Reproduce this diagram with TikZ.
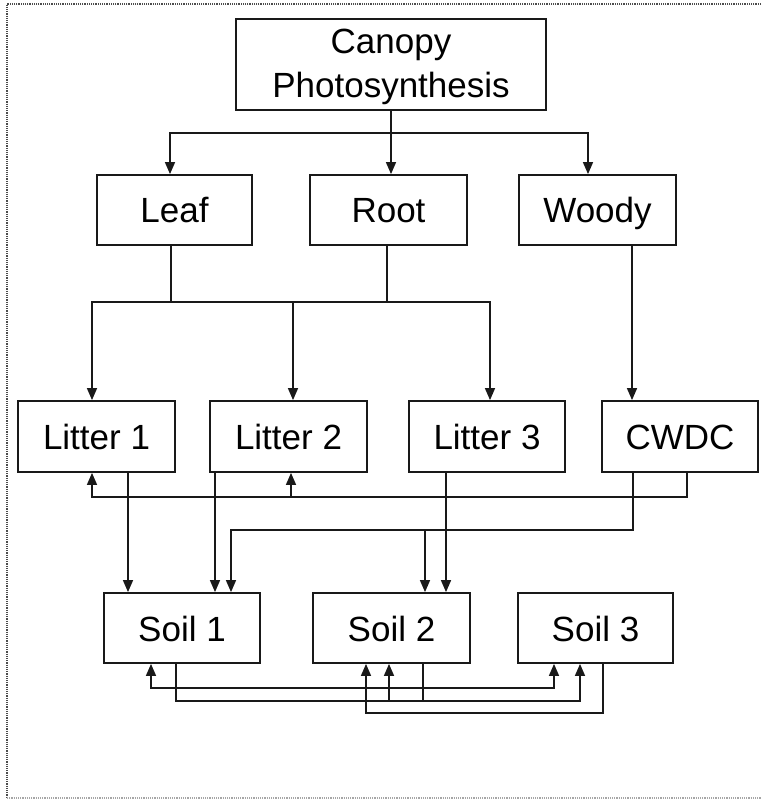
\documentclass[tikz,border=0pt]{standalone}
\usepackage{fontspec}
\setmainfont{Liberation Sans}
\usetikzlibrary{arrows.meta}
\begin{document}
\begin{tikzpicture}[x=1pt,y=-1pt,
  box/.style={draw=black!90,line width=1.8pt,minimum height=70pt,inner sep=0pt,align=center,
    text height=26pt,text depth=0pt,font=\fontsize{35}{44}\selectfont},
  conn/.style={draw=black!90,line width=1.5pt},
  arr/.style={conn,-{Triangle[length=12pt,width=10pt]}}]
\useasboundingbox (0,0) rectangle (761,799);
% frame
\draw[black!70,line width=1.2pt,densely dotted] (761,4) -- (7,4) -- (7,798);
\draw[black!35,line width=1.2pt,densely dotted] (7,798) -- (761,798);
% nodes
\node[box,minimum width=310pt,minimum height=91pt,text height=67pt] (canopy) at (391,64.5) {Canopy\\Photosynthesis};
\node[box,minimum width=155pt] (leaf) at (174.5,210) {Leaf};
\node[box,minimum width=157pt] (root) at (388.5,210) {Root};
\node[box,minimum width=157pt] (woody) at (597.5,210) {Woody};
\node[box,minimum width=157pt,minimum height=71pt] (lit1) at (96.5,436.5) {Litter 1};
\node[box,minimum width=157pt,minimum height=71pt] (lit2) at (288.5,436.5) {Litter 2};
\node[box,minimum width=156pt,minimum height=71pt] (lit3) at (487,436.5) {Litter 3};
\node[box,minimum width=156pt,minimum height=71pt] (cwdc) at (680,436.5) {CWDC};
\node[box,minimum width=156pt] (soil1) at (182,628) {Soil 1};
\node[box,minimum width=157pt] (soil2) at (391.5,628) {Soil 2};
\node[box,minimum width=155pt] (soil3) at (595.5,628) {Soil 3};
% canopy -> leaf/root/woody
\coordinate (j1) at (391,133);
\draw[conn] (canopy.south) -- (j1);
\draw[arr] (j1) -| (leaf.north -| 170,0);
\draw[arr] (j1) -- (root.north -| 391,0);
\draw[arr] (j1) -| (woody.north -| 588,0);
% leaf/root -> litters
\coordinate (j2) at (171,302);
\coordinate (j3) at (387,302);
\draw[conn] (leaf.south -| 171,0) -- (j2);
\draw[conn] (root.south -| 387,0) -- (j3);
\draw[arr] (j3) -| (lit1.north -| 92,0);
\draw[arr] (j3) -| (lit3.north -| 490,0);
\draw[arr] (293,302) -- (lit2.north -| 293,0);
% woody -> cwdc
\draw[arr] (woody.south -| 632,0) -- (cwdc.north -| 632,0);
% cwdc -> litter 1, litter 2
\coordinate (j4) at (291,497);
\draw[conn] (cwdc.south -| 687,0) |- (j4);
\draw[arr] (j4) -| (lit1.south -| 92,0);
\draw[arr] (j4) -- (lit2.south -| 291,0);
% litters -> soil 1
\draw[arr] (lit1.south -| 128,0) -- (soil1.north -| 128,0);
\draw[arr] (lit2.south -| 215,0) -- (soil1.north -| 215,0);
% cwdc -> soil 1, soil 2
\coordinate (j5) at (425,530);
\draw[conn] (cwdc.south -| 633,0) |- (j5);
\draw[arr] (j5) -| (soil1.north -| 231,0);
\draw[arr] (j5) -- (soil2.north -| 425,0);
% litter 3 -> soil 2
\draw[arr] (lit3.south -| 446,0) -- (soil2.north -| 446,0);
% soil 2 -> soil 1, soil 3
\coordinate (j6) at (423,688);
\draw[conn] (soil2.south -| 423,0) -- (423,701);
\draw[arr] (j6) -| (soil1.south -| 151,0);
\draw[arr] (j6) -| (soil3.south -| 554,0);
% soil 1 -> soil 2, soil 3
\coordinate (j7) at (389,701);
\draw[conn] (soil1.south -| 176,0) |- (j7);
\draw[arr] (j7) -| (soil3.south -| 580,0);
\draw[arr] (j7) -- (soil2.south -| 389,0);
% soil 3 -> soil 2
\draw[arr] (soil3.south -| 603,0) |- (366,713) -- (soil2.south -| 366,0);
\end{tikzpicture}
\end{document}
